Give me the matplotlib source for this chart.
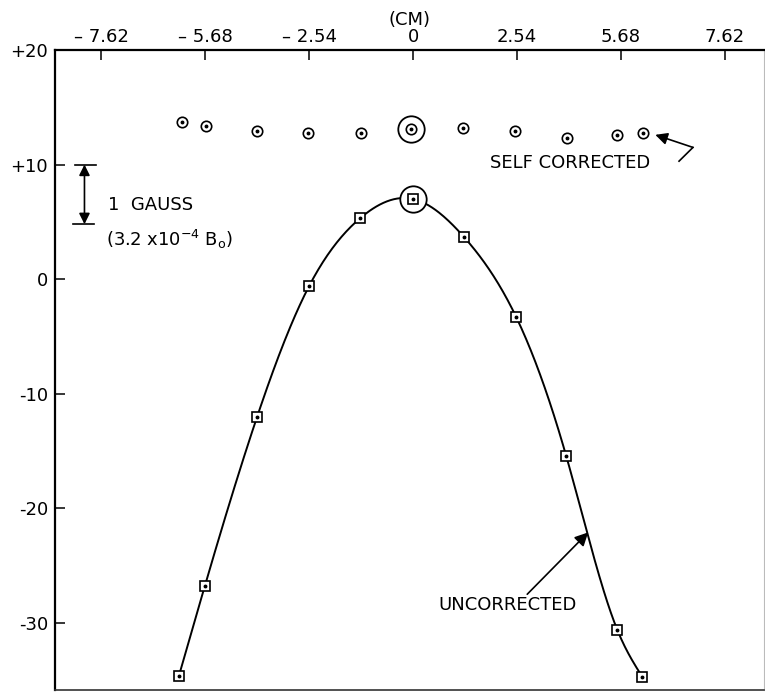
import numpy as np
import matplotlib
matplotlib.use("Agg")
import matplotlib.pyplot as plt

# Field deviation vs. position
x_unc = [-5.72, -5.09, -3.81, -2.54, -1.30, 0.0, 1.24, 2.52, 3.74, 4.99, 5.60]
y_unc = [-34.6, -26.8, -12.0, -0.6, 5.3, 7.0, 3.7, -3.3, -15.4, -30.6, -34.7]

x_self = [-5.65, -5.06, -3.81, -2.57, -1.27, -0.05, 1.22, 2.49, 3.77, 4.99, 5.62]
y_self = [13.7, 13.35, 12.9, 12.8, 12.8, 13.1, 13.2, 12.9, 12.3, 12.6, 12.8]

xtick_pos = [-7.62, -5.08, -2.54, 0, 2.54, 5.08, 7.62]
xtick_lab = ["\u2013 7.62", "\u2013 5.68", "\u2013 2.54", "0", "2.54", "5.68", "7.62"]
ytick_pos = [20, 10, 0, -10, -20, -30]
ytick_lab = ["+20", "+10", "0", "-10", "-20", "-30"]


def natural_spline(xs, ys, n=400):
    """Natural cubic spline through the points (x increasing)."""
    x = np.asarray(xs, float)
    y = np.asarray(ys, float)
    k = len(x)
    h = np.diff(x)
    A = np.zeros((k, k))
    b = np.zeros(k)
    A[0, 0] = A[-1, -1] = 1.0
    for i in range(1, k - 1):
        A[i, i - 1] = h[i - 1]
        A[i, i] = 2 * (h[i - 1] + h[i])
        A[i, i + 1] = h[i]
        b[i] = 6 * ((y[i + 1] - y[i]) / h[i] - (y[i] - y[i - 1]) / h[i - 1])
    M = np.linalg.solve(A, b)
    xx = np.linspace(x[0], x[-1], n)
    idx = np.clip(np.searchsorted(x, xx) - 1, 0, k - 2)
    x0, x1 = x[idx], x[idx + 1]
    hh = x1 - x0
    yy = (M[idx] * (x1 - xx) ** 3 / (6 * hh) + M[idx + 1] * (xx - x0) ** 3 / (6 * hh)
          + (y[idx] / hh - M[idx] * hh / 6) * (x1 - xx)
          + (y[idx + 1] / hh - M[idx + 1] * hh / 6) * (xx - x0))
    return xx, yy


plt.rcParams['font.family'] = ['DejaVu Sans']
fig = plt.figure(figsize=(7.65, 6.93), dpi=100)
ax = fig.add_axes([0.0719, 0.0043, 0.927, 0.9235])
ax.set_xlim(-8.75, 8.58)
ax.set_ylim(-35.86, 20)

# uncorrected curve + square markers
cx, cy = natural_spline(x_unc, y_unc)
ax.plot(cx, cy, color='black', lw=1.4, zorder=2)
ax.plot(x_unc, y_unc, ls='none', marker='s', ms=7.5, mfc='white', mec='black',
        mew=1.2, zorder=3)
ax.plot(x_unc, y_unc, ls='none', marker='o', ms=1.8, color='black', zorder=4)

# self corrected circles
ax.plot(x_self, y_self, ls='none', marker='o', ms=7.5, mfc='white', mec='black',
        mew=1.2, zorder=3)
ax.plot(x_self, y_self, ls='none', marker='o', ms=1.8, color='black', zorder=4)

# big circles around the centre points
ax.plot([x_self[5]], [y_self[5]], ls='none', marker='o', ms=19, mfc='none',
        mec='black', mew=1.3, zorder=3)
ax.plot([x_unc[5]], [y_unc[5]], ls='none', marker='o', ms=19, mfc='white',
        mec='black', mew=1.3, zorder=2.5)

# axes styling
for s in ['left', 'top']:
    ax.spines[s].set_linewidth(1.6)
ax.spines['bottom'].set_linewidth(1.2)
ax.spines['bottom'].set_color('#333333')
ax.spines['right'].set_linewidth(0.8)
ax.spines['right'].set_color('#bbbbbb')

ax.xaxis.tick_top()
ax.set_xticks(xtick_pos)
ax.set_xticklabels(xtick_lab)
ax.set_yticks(ytick_pos)
ax.set_yticklabels(ytick_lab)
ax.tick_params(axis='x', direction='in', length=7.5, width=1.1, pad=3,
               labelsize=13)
ax.tick_params(axis='y', direction='in', length=7.5, width=1.1, pad=5,
               labelsize=13)
ax.xaxis.set_label_position('top')
ax.set_xlabel('(CM)', fontsize=13, labelpad=2)

# 1 gauss scale bar
ax.plot([-8.26, -7.75], [10, 10], color='black', lw=1.2)
ax.plot([-8.30, -7.80], [4.8, 4.8], color='black', lw=1.2)
ax.annotate('', xy=(-8.03, 10), xytext=(-8.03, 4.8),
            arrowprops=dict(arrowstyle='<|-|>', color='black', lw=1.2,
                            mutation_scale=16, shrinkA=0, shrinkB=0))
ax.text(-7.45, 6.5, '1  GAUSS', fontsize=13, va='center', ha='left')
ax.text(-7.50, 3.5, '(3.2 x10$^{-4}$ B$_{\\mathregular{o}}$)', fontsize=13,
        va='center', ha='left')

# labels with arrows
ax.text(1.88, 10.1, 'SELF CORRECTED', fontsize=13, va='center', ha='left')
ax.plot([6.5, 6.84], [10.3, 11.5], color='black', lw=1.2)
ax.annotate('', xy=(5.92, 12.6), xytext=(6.84, 11.5),
            arrowprops=dict(arrowstyle='-|>', color='black', lw=1.2,
                            mutation_scale=18, shrinkA=0, shrinkB=0))

ax.text(0.61, -28.4, 'UNCORRECTED', fontsize=13, va='center', ha='left')
ax.annotate('', xy=(4.28, -22.1), xytext=(2.79, -27.5),
            arrowprops=dict(arrowstyle='-|>', color='black', lw=1.2,
                            mutation_scale=20, shrinkA=0, shrinkB=0))

fig.savefig('out.png', dpi=100)
